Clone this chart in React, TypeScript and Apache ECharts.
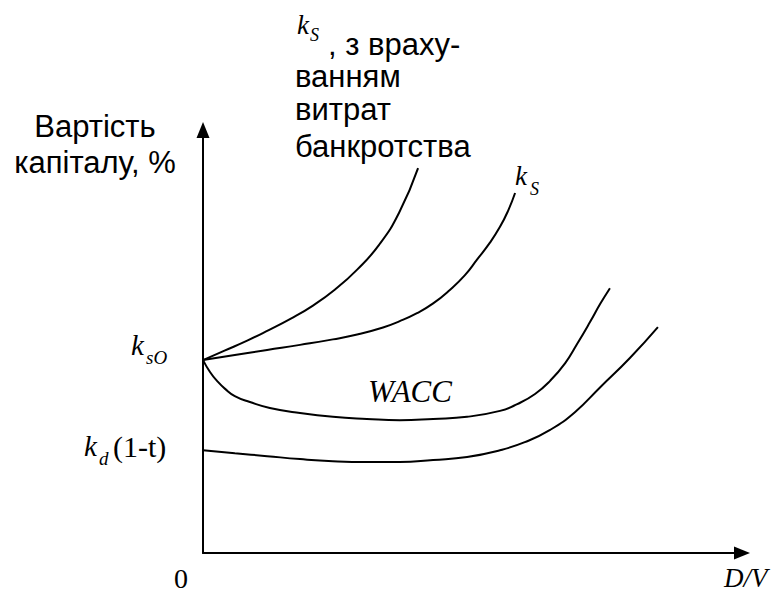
import React, { useEffect, useRef } from "react";
import * as echarts from "echarts";

// Curves as [D/V, cost] pairs (arbitrary units 0..100)
const ksBankruptcy: [number, number][] = [
  [0, 45.6], [4.1, 47.9], [8.2, 50.2], [12.2, 52.7], [16.3, 55.4],
  [20.4, 58.5], [24.5, 62.3], [28.6, 67.0], [32.7, 72.9], [36.4, 80.5],
  [39.9, 91.0],
];
const ks: [number, number][] = [
  [0, 45.6], [5.9, 46.8], [11.9, 48.0], [18.0, 49.2], [24.1, 50.5],
  [28.8, 51.7], [33.4, 53.3], [36.5, 54.8], [39.7, 56.7], [42.7, 59.0],
  [45.8, 62.2], [48.6, 65.7], [50.8, 69.3], [53.2, 73.3], [55.1, 77.1],
  [56.6, 80.9], [57.9, 85.1],
];
const wacc: [number, number][] = [
  [0, 45.6], [1.3, 42.8], [2.6, 40.7], [4.1, 38.8], [5.9, 37.1],
  [8.7, 35.7], [12.4, 34.3], [18.0, 33.1], [24.1, 32.2], [30.4, 31.7],
  [36.5, 31.4], [42.7, 31.7], [49.0, 32.2], [55.1, 33.6], [58.3, 35.2],
  [61.6, 37.6], [64.4, 40.7], [67.2, 44.9], [69.4, 49.4], [71.8, 54.6],
  [73.7, 58.9], [75.5, 62.6],
];
const kd: [number, number][] = [
  [0, 24.3], [5.9, 23.6], [11.9, 22.9], [18.0, 22.2], [24.1, 21.7],
  [30.4, 21.5], [36.5, 21.5], [42.7, 22.0], [49.0, 22.7], [55.1, 24.3],
  [59.7, 26.2], [64.4, 29.1], [69.0, 33.3], [73.7, 39.2], [79.2, 46.1],
  [84.4, 53.4],
];

const yAxisTitleLines = ["Вартість", "капіталу, %"];
const topLabelLines = [", з враху-", "ванням", "витрат", "банкротства"];

const SANS = "Liberation Sans, Arial, sans-serif";
const SERIF = "Liberation Serif, Times New Roman, serif";

function curve(data: [number, number][]) {
  return {
    type: "line",
    data,
    smooth: 0.5,
    showSymbol: false,
    symbol: "none",
    lineStyle: { color: "#000", width: 2 },
    silent: true,
  };
}

function txt(text: string, x: number, y: number, font: string, size: number, italic = false, align = "left") {
  return {
    type: "text",
    x,
    y,
    silent: true,
    style: {
      text,
      fill: "#000",
      fontFamily: font,
      fontSize: size,
      fontStyle: italic ? "italic" : "normal",
      textAlign: align,
      textVerticalAlign: "middle",
    },
  };
}

export default function App() {
  const ref = useRef<HTMLDivElement>(null);
  useEffect(() => {
    document.body.style.margin = "0";
    if (!ref.current) return;
    const chart = echarts.init(ref.current, null, { renderer: "svg" });
    const graphics: any[] = [
      // y-axis title
      txt(yAxisTitleLines[0], 95, 126, SANS, 31, false, "center"),
      txt(yAxisTitleLines[1], 95, 162, SANS, 31, false, "center"),
      // top label
      txt("k", 297, 25, SERIF, 27, true),
      txt("S", 310, 35, SERIF, 18, true),
      txt(topLabelLines[0], 328, 44, SANS, 31),
      txt(topLabelLines[1], 295, 76, SANS, 31),
      txt(topLabelLines[2], 295, 109, SANS, 31),
      txt(topLabelLines[3], 295, 146, SANS, 31),
      // ks label
      txt("k", 515, 176, SERIF, 27, true),
      txt("S", 530, 189, SERIF, 18, true),
      // ksO
      txt("k", 131, 345, SERIF, 29, true),
      txt("sO", 146, 357, SERIF, 19, true),
      // kd(1-t)
      txt("k", 84, 446, SERIF, 29, true),
      txt("d", 99, 458, SERIF, 19, true),
      txt("(1-t)", 113, 446, SERIF, 30),
      // WACC
      txt("WACC", 368, 391, SERIF, 31, true),
      // axis end labels
      txt("0", 181, 578, SERIF, 28, false, "center"),
      txt("D/V", 724, 578, SERIF, 27, true),
    ];
    chart.setOption({
      animation: false,
      backgroundColor: "#fff",
      grid: { left: 203, right: 36, top: 130, bottom: 41, containLabel: false },
      xAxis: {
        type: "value",
        min: 0,
        max: 100,
        axisLine: {
          show: true,
          onZero: false,
          symbol: ["none", "triangle"],
          symbolSize: [13, 16],
          lineStyle: { color: "#000", width: 2 },
        },
        axisTick: { show: false },
        axisLabel: { show: false },
        splitLine: { show: false },
      },
      yAxis: {
        type: "value",
        min: 0,
        max: 100,
        axisLine: {
          show: true,
          onZero: false,
          symbol: ["none", "triangle"],
          symbolSize: [13, 16],
          lineStyle: { color: "#000", width: 2 },
        },
        axisTick: { show: false },
        axisLabel: { show: false },
        splitLine: { show: false },
      },
      series: [curve(ksBankruptcy), curve(ks), curve(wacc), curve(kd)],
      graphic: graphics,
    });
    return () => chart.dispose();
  }, []);
  return <div ref={ref} style={{ width: 778, height: 594 }} />;
}
